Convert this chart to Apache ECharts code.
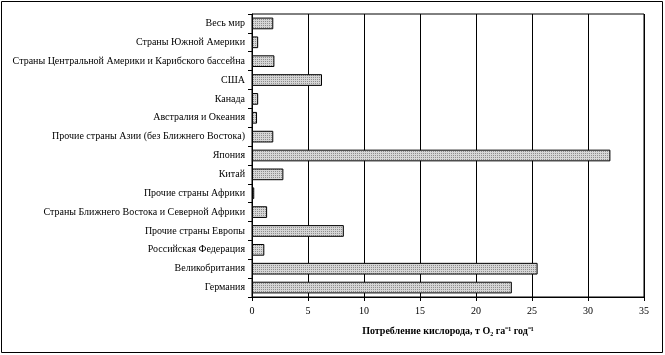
<!DOCTYPE html>
<html><head><meta charset="utf-8">
<script src="https://cdn.jsdelivr.net/npm/echarts@6/dist/echarts.min.js"></script>
<style>html,body{margin:0;padding:0;background:#fff}#c{width:665px;height:355px}</style>
</head><body><div id="c"></div>
<script>
// Categories listed bottom-to-top
const categories = [
  'Германия',
  'Великобритания',
  'Российская Федерация',
  'Прочие страны Европы',
  'Страны Ближнего Востока и Северной Африки',
  'Прочие страны Африки',
  'Китай',
  'Япония',
  'Прочие страны Азии (без Ближнего Востока)',
  'Австралия и Океания',
  'Канада',
  'США',
  'Страны Центральной Америки и Карибского бассейна',
  'Страны Южной Америки',
  'Весь мир'
];
const values = [23.2, 25.5, 1.1, 8.2, 1.35, 0.2, 2.8, 32.0, 1.9, 0.45, 0.55, 6.25, 2.0, 0.55, 1.9];
const xTicks = [0, 5, 10, 15, 20, 25, 30, 35];

function makePattern() {
  const cv = document.createElement('canvas');
  cv.width = 2; cv.height = 2;
  const ctx = cv.getContext('2d');
  ctx.fillStyle = '#d6d6d6'; ctx.fillRect(0, 0, 2, 2);
  ctx.fillStyle = '#8e8e8e'; ctx.fillRect(1, 1, 1, 1);
  return cv;
}

const chart = echarts.init(document.getElementById('c'), null, {renderer: 'canvas'});
const font = "'Liberation Serif', 'Times New Roman', serif";
chart.setOption({
  animation: false,
  backgroundColor: '#fff',
  textStyle: {fontFamily: font},
  grid: {left: 252, right: 21, top: 14, bottom: 58, show: true, borderColor: '#000', borderWidth: 1,
         containLabel: false, outerBoundsMode: 'none'},
  xAxis: {
    type: 'value', min: xTicks[0], max: xTicks[xTicks.length - 1], interval: 5,
    name: 'Потребление кислорода, т O₂ га⁻¹ год⁻¹',
    nameLocation: 'middle', nameGap: 29,
    nameTextStyle: {fontFamily: font, fontSize: 10, fontWeight: 'bold', color: '#000'},
    axisLine: {show: true, lineStyle: {color: '#000', width: 1}},
    axisTick: {show: true, length: 4, lineStyle: {color: '#000'}},
    axisLabel: {fontFamily: font, fontSize: 10, color: '#000', margin: 9},
    splitLine: {show: true, lineStyle: {color: '#000', width: 1}}
  },
  yAxis: {
    type: 'category', data: categories,
    axisLine: {show: true, lineStyle: {color: '#000', width: 1}},
    axisTick: {show: true, length: 4, lineStyle: {color: '#000'}},
    axisLabel: {fontFamily: font, fontSize: 10, color: '#000', margin: 7},
    splitLine: {show: false}
  },
  series: [{
    type: 'bar', data: values, barCategoryGap: '38%',
    itemStyle: {color: {image: makePattern(), repeat: 'repeat'}, borderColor: '#000', borderWidth: 1}
  }],
  graphic: [{
    type: 'rect', shape: {x: 1.5, y: 1.5, width: 661, height: 351},
    style: {fill: 'none', stroke: '#000', lineWidth: 1}, silent: true
  }]
});
</script></body></html>
